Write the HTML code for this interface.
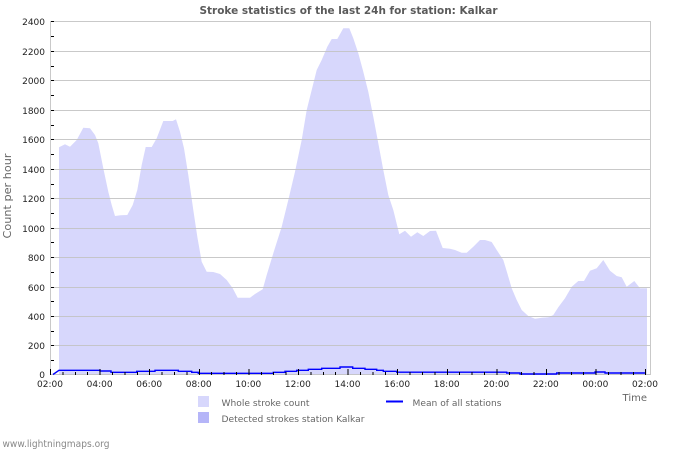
<!DOCTYPE html>
<html><head><meta charset="utf-8"><style>
html,body{margin:0;padding:0;background:#fff;}
svg{display:block;font-family:"DejaVu Sans","Liberation Sans",sans-serif;}
</style></head><body>
<svg width="700" height="450" viewBox="0 0 700 450" xmlns="http://www.w3.org/2000/svg">
<rect width="700" height="450" fill="#fff"/>
<text x="348.5" y="14" text-anchor="middle" font-size="11" font-weight="bold" fill="#5a5a5a" textLength="298" lengthAdjust="spacingAndGlyphs">Stroke statistics of the last 24h for station: Kalkar</text>

<polygon fill="#d7d7fc" points="59,375 59,147.3 65,144.3 70,146.7 76.7,140 83.3,127.7 90,128.3 95,135 98.3,143.3 103.3,168.3 108.3,191.7 111.7,205 115,216 120.7,215.3 127.3,215 132.7,205 137.3,190 141.7,165 145.7,147 151.7,147 156.7,138.3 163.3,121 172.7,121 176,119.3 180,131.7 184,148.3 188.3,175 193.3,210 197.3,236.7 201.7,261.7 206.7,271.7 213.3,272 220,274 226.7,280 232.7,288.3 237.7,297.7 250,297.7 255,294 262.7,289.3 266.7,275 273.3,253.3 281.7,226.7 288.3,200 295,171.7 301.7,140 306.7,110 311.7,90 316.7,70 321.7,60 327.3,46.7 331.7,39 337.3,39 343.3,28.3 349.3,28.3 353.3,38.3 358.3,53.3 363.3,71.7 368.3,91.7 373.3,116.7 378.3,143.3 383.3,170 388.3,195 393.3,210 399.3,234.3 405,230.7 411,236.7 417.3,232.3 423.3,236 430,231 436,230.7 442.7,248 450,248.7 455,250 461.7,252.7 466.7,252.7 473.3,246.7 480,240 485,240 491.7,242 496.7,250 503.3,260 507.3,273.3 511.7,288.3 516.7,300 521.7,310 528.3,316 535,318.7 541.7,317.7 548.3,317.3 553.3,315 558.3,307.3 565,298.3 571.7,286.7 578.3,281 584,281 590,270.7 596.7,268.3 603.3,260 610,270.7 616.7,276 621.7,277.3 626.7,286.7 634.3,281 640,288.3 647,288.3 647,375"/>

<g stroke="#c4c4c4" stroke-width="1" shape-rendering="crispEdges" opacity="0.9">
<line x1="50" x2="650" y1="21.5" y2="21.5"/>
<line x1="50" x2="650" y1="51.5" y2="51.5"/>
<line x1="50" x2="650" y1="80.5" y2="80.5"/>
<line x1="50" x2="650" y1="110.5" y2="110.5"/>
<line x1="50" x2="650" y1="139.5" y2="139.5"/>
<line x1="50" x2="650" y1="169.5" y2="169.5"/>
<line x1="50" x2="650" y1="198.5" y2="198.5"/>
<line x1="50" x2="650" y1="228.5" y2="228.5"/>
<line x1="50" x2="650" y1="257.5" y2="257.5"/>
<line x1="50" x2="650" y1="287.5" y2="287.5"/>
<line x1="50" x2="650" y1="316.5" y2="316.5"/>
<line x1="50" x2="650" y1="345.5" y2="345.5"/>
<line x1="50" x2="650" y1="374.5" y2="374.5"/>
<line x1="50.5" x2="50.5" y1="21" y2="375"/>
<line x1="650.5" x2="650.5" y1="21" y2="375"/>
</g>

<polyline fill="none" stroke="#0000ff" stroke-width="1.4" points="53,374.5 59,370.3 100,370.3 100,371 111,371 111,372.3 136.7,372.3 136.7,371.3 155,371.3 155,370.3 178.3,370.3 178.3,371.3 191.7,371.3 191.7,372.3 198.3,372.3 198.3,373.3 273.3,373.3 273.3,372.3 285,372.3 285,371.3 296.7,371.3 296.7,370.3 308.3,370.3 308.3,369.3 321.7,369.3 321.7,368.3 340,368.3 340,367 352.7,367 352.7,368.3 365,368.3 365,369.3 376.7,369.3 376.7,370.3 383.3,370.3 383.3,371.3 396.7,371.3 396.7,372.2 506.7,372.2 506.7,373 520,373 520,374 556.7,374 556.7,373 595,373 595,372 605,372 605,373 646,373"/>

<g stroke="#000" stroke-width="1" shape-rendering="crispEdges">
<path d="M51,21.5h3M51,36.5h3M51,51.5h3M51,66.5h3M51,80.5h3M51,95.5h3M51,110.5h3M51,125.5h3M51,139.5h3M51,154.5h3M51,169.5h3M51,184.5h3M51,198.5h3M51,213.5h3M51,228.5h3M51,242.5h3M51,257.5h3M51,272.5h3M51,287.5h3M51,301.5h3M51,316.5h3M51,331.5h3M51,345.5h3M51,360.5h3"/>
</g>

<g font-size="9" fill="#222" text-anchor="end">
<text x="45" y="25">2400</text>
<text x="45" y="55">2200</text>
<text x="45" y="84">2000</text>
<text x="45" y="114">1800</text>
<text x="45" y="143">1600</text>
<text x="45" y="173">1400</text>
<text x="45" y="202">1200</text>
<text x="45" y="232">1000</text>
<text x="45" y="261">800</text>
<text x="45" y="291">600</text>
<text x="45" y="320">400</text>
<text x="45" y="349">200</text>
<text x="45" y="378">0</text>
</g>
<g font-size="9" fill="#222" text-anchor="middle">
<text x="50" y="387">02:00</text>
<text x="99.6" y="387">04:00</text>
<text x="149.2" y="387">06:00</text>
<text x="198.7" y="387">08:00</text>
<text x="248.3" y="387">10:00</text>
<text x="297.9" y="387">12:00</text>
<text x="347.5" y="387">14:00</text>
<text x="397.1" y="387">16:00</text>
<text x="446.7" y="387">18:00</text>
<text x="496.3" y="387">20:00</text>
<text x="545.8" y="387">22:00</text>
<text x="595.4" y="387">00:00</text>
<text x="645" y="387">02:00</text>
</g>

<text x="647" y="401" font-size="10" fill="#666" text-anchor="end">Time</text>
<text transform="translate(11,196) rotate(-90)" font-size="10.5" fill="#666" text-anchor="middle" textLength="85" lengthAdjust="spacingAndGlyphs">Count per hour</text>

<rect x="198" y="396" width="11" height="11" fill="#d7d7fc"/>
<text x="221.5" y="406" font-size="9" fill="#666" textLength="88" lengthAdjust="spacingAndGlyphs">Whole stroke count</text>
<rect x="198" y="412" width="11" height="11" fill="#b5b5f8"/>
<text x="221.5" y="422" font-size="9" fill="#666" textLength="143" lengthAdjust="spacingAndGlyphs">Detected strokes station Kalkar</text>
<line x1="386" x2="403" y1="401.5" y2="401.5" stroke="#0000ff" stroke-width="2"/>
<text x="412.5" y="406" font-size="9" fill="#666" textLength="89" lengthAdjust="spacingAndGlyphs">Mean of all stations</text>

<text x="2.5" y="447" font-size="9.5" fill="#888" textLength="107" lengthAdjust="spacingAndGlyphs">www.lightningmaps.org</text>

<path stroke="#000" stroke-width="1" shape-rendering="crispEdges" d="M50.5,369v6M62.9,372v3M75.3,372v3M87.7,372v3M100.1,369v6M112.5,372v3M124.9,372v3M137.3,372v3M149.7,369v6M162.1,372v3M174.5,372v3M186.9,372v3M199.3,369v6M211.7,372v3M224.1,372v3M236.5,372v3M248.9,369v6M261.3,372v3M273.7,372v3M286.1,372v3M298.5,369v6M310.9,372v3M323.3,372v3M335.7,372v3M348.1,369v6M360.5,372v3M372.9,372v3M385.3,372v3M397.7,369v6M410.1,372v3M422.5,372v3M434.9,372v3M447.3,369v6M459.7,372v3M472.1,372v3M484.5,372v3M496.9,369v6M509.3,372v3M521.7,372v3M534.1,372v3M546.5,369v6M558.9,372v3M571.3,372v3M583.7,372v3M596.1,369v6M608.5,372v3M620.9,372v3M633.3,372v3M645.5,369v6"/>
</svg>
</body></html>
